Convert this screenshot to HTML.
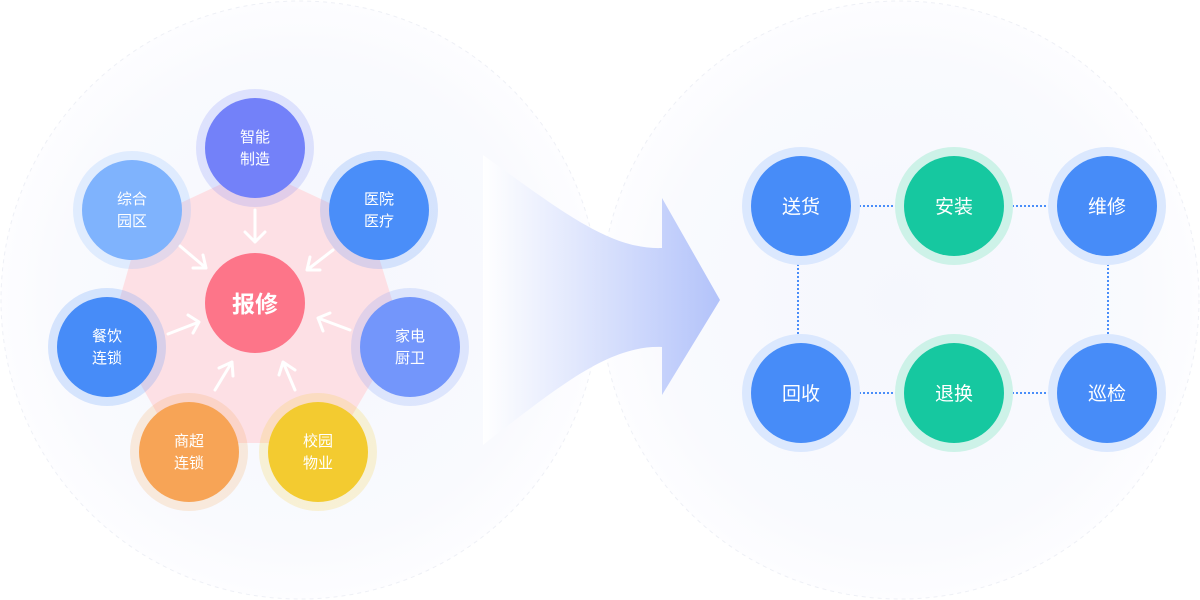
<!DOCTYPE html>
<html><head><meta charset="utf-8"><style>
html,body{margin:0;padding:0;background:#fff;width:1200px;height:600px;overflow:hidden}
svg text{font-family:"Liberation Sans","Noto Sans CJK SC",sans-serif;fill:#fff;text-anchor:middle}
</style></head><body>
<svg width="1200" height="600" viewBox="0 0 1200 600" xmlns="http://www.w3.org/2000/svg">
<defs>
<linearGradient id="ag" x1="483" y1="0" x2="720" y2="0" gradientUnits="userSpaceOnUse">
<stop offset="0" stop-color="#ffffff"/><stop offset="1" stop-color="#b3c3fa"/></linearGradient>
<radialGradient id="bg1" cx="0.5" cy="0.5" r="0.5"><stop offset="0" stop-color="#f5f7fd"/><stop offset="0.8" stop-color="#f9fafe"/><stop offset="1" stop-color="#fdfdff"/></radialGradient>
</defs>
<circle cx="300" cy="300" r="299" fill="url(#bg1)" stroke="#eef0f6" stroke-dasharray="4 4"/>
<circle cx="900" cy="300" r="299" fill="url(#bg1)" stroke="#eef0f6" stroke-dasharray="4 4"/>
<path d="M483 155 C560 210 610 250 662 248 L662 198 L720 300 L662 395 L662 347 C610 345 560 385 483 445 Z" fill="url(#ag)"/>
<polygon points="255,176 362,226 394,330 332,436 178,436 118,330 148,226" fill="#fde0e5" stroke="#fde0e5" stroke-width="14" stroke-linejoin="round"/>
<g fill="none" stroke="#fff" stroke-width="3" stroke-linecap="round" stroke-linejoin="round">
<path d="M255 210 V242 M245 232 L255 242 L265 232"/>
<path d="M180 246 L206 268 M193 268 L206 268 L203 255"/>
<path d="M333 250 L307 270 M310 257 L307 270 L320 270"/>
<path d="M168 334 L199 322 M188 315 L199 322 L193 333"/>
<path d="M350 330 L318 318 M323 331 L318 318 L330 313"/>
<path d="M215 390 L232 362 M219 368 L232 362 L233 376"/>
<path d="M295 390 L283 362 M279 375 L283 362 L295 370"/>
</g>
<g>
<circle cx="255" cy="148" r="59" fill="#7381f9" opacity="0.2"/><circle cx="255" cy="148" r="50" fill="#7381f9"/>
<circle cx="132" cy="210" r="59" fill="#7fb3fd" opacity="0.2"/><circle cx="132" cy="210" r="50" fill="#7fb3fd"/>
<circle cx="379" cy="210" r="59" fill="#4a8ef9" opacity="0.2"/><circle cx="379" cy="210" r="50" fill="#4a8ef9"/>
<circle cx="107" cy="347" r="59" fill="#478cf8" opacity="0.2"/><circle cx="107" cy="347" r="50" fill="#478cf8"/>
<circle cx="410" cy="347" r="59" fill="#7396fb" opacity="0.2"/><circle cx="410" cy="347" r="50" fill="#7396fb"/>
<circle cx="189" cy="452" r="59" fill="#f7a456" opacity="0.2"/><circle cx="189" cy="452" r="50" fill="#f7a456"/>
<circle cx="318" cy="452" r="59" fill="#f3cb30" opacity="0.2"/><circle cx="318" cy="452" r="50" fill="#f3cb30"/>
<circle cx="255" cy="303" r="50" fill="#fd7589"/>
</g>
<g font-size="15">
<text x="255" y="142">智能</text><text x="255" y="164">制造</text>
<text x="132" y="204">综合</text><text x="132" y="226">园区</text>
<text x="379" y="204">医院</text><text x="379" y="226">医疗</text>
<text x="107" y="341">餐饮</text><text x="107" y="363">连锁</text>
<text x="410" y="341">家电</text><text x="410" y="363">厨卫</text>
<text x="189" y="446">商超</text><text x="189" y="468">连锁</text>
<text x="318" y="446">校园</text><text x="318" y="468">物业</text>
</g>
<text x="255" y="312" font-size="23" font-weight="bold">报修</text>
<g stroke="#4a8ef9" stroke-width="2" stroke-dasharray="2 2">
<line x1="851" y1="206" x2="904" y2="206"/><line x1="1004" y1="206" x2="1057" y2="206"/>
<line x1="851" y1="393" x2="904" y2="393"/><line x1="1004" y1="393" x2="1057" y2="393"/>
<line x1="798" y1="256" x2="798" y2="343"/><line x1="1108" y1="256" x2="1108" y2="343"/>
</g>
<g>
<circle cx="801" cy="206" r="59" fill="#dbe8fe"/><circle cx="801" cy="206" r="50" fill="#478cf8"/>
<circle cx="954" cy="206" r="59" fill="#cdf2e8"/><circle cx="954" cy="206" r="50" fill="#16c8a0"/>
<circle cx="1107" cy="206" r="59" fill="#dbe8fe"/><circle cx="1107" cy="206" r="50" fill="#478cf8"/>
<circle cx="801" cy="393" r="59" fill="#dbe8fe"/><circle cx="801" cy="393" r="50" fill="#478cf8"/>
<circle cx="954" cy="393" r="59" fill="#cdf2e8"/><circle cx="954" cy="393" r="50" fill="#16c8a0"/>
<circle cx="1107" cy="393" r="59" fill="#dbe8fe"/><circle cx="1107" cy="393" r="50" fill="#478cf8"/>
</g>
<g font-size="19">
<text x="801" y="213">送货</text><text x="954" y="213">安装</text><text x="1107" y="213">维修</text>
<text x="801" y="400">回收</text><text x="954" y="400">退换</text><text x="1107" y="400">巡检</text>
</g>
</svg>
</body></html>
